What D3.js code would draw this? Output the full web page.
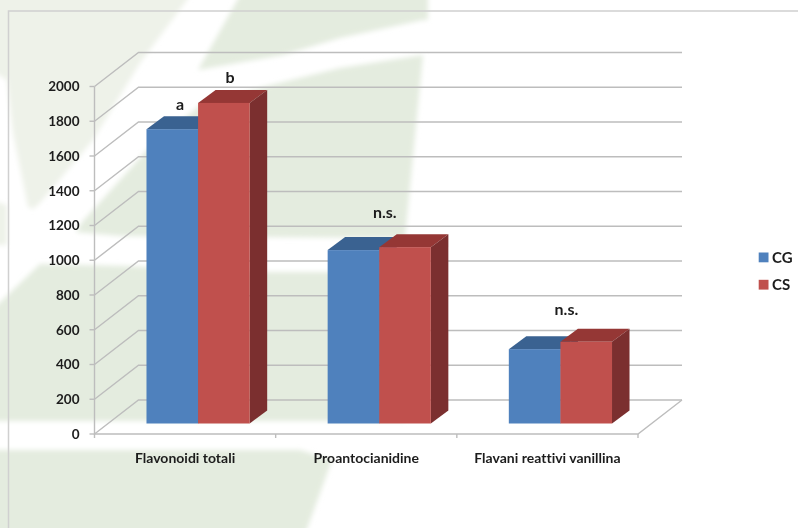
<!DOCTYPE html>
<html><head><meta charset="utf-8">
<script src="https://cdn.jsdelivr.net/npm/d3@7"></script>
<style>html,body{margin:0;padding:0;background:#fff;overflow:hidden}svg{display:block}text{font-family:Lato,"Open Sans",sans-serif;font-weight:700;fill:#1c1c1c;font-variant-ligatures:none}</style>
</head><body><svg id="c" width="798" height="528"></svg>
<script>
const categories = ["Flavonoidi totali", "Proantocianidine", "Flavani reattivi vanillina"];
const seriesNames = ["CG", "CS"];
const valuesCG = [1694, 998, 428];
const valuesCS = [1845, 1015, 470];
const yTicks = [0, 200, 400, 600, 800, 1000, 1200, 1400, 1600, 1800, 2000];
const annotationLabels = ["a", "b", "n.s.", "n.s."];
const annotationCategory = [0, 0, 1, 2];
const annotationOffset = [-18, 32, 5.5, 6];   // px from band centre
const annotationValue = [1865, 2020, 1243, 686];

const colors = {CG:{front:"#4f81bd",top:"#3a6291",side:"#3a6291"},CS:{front:"#c0504d",top:"#953735",side:"#7b2f2f"}};
const svg = d3.select("#c");
const defs = svg.append("defs");
defs.append("filter").attr("id","bgblur").attr("filterUnits","userSpaceOnUse").attr("x",-20).attr("y",-20).attr("width",840).attr("height",570)
  .append("feGaussianBlur").attr("stdDeviation",2.5);
defs.append("filter").attr("id","soft").attr("filterUnits","userSpaceOnUse").attr("x",-300).attr("y",-50).attr("width",1200).attr("height",700)
  .append("feGaussianBlur").attr("stdDeviation",0.35);

// background decoration (blurred leaf shapes behind the chart)
const pale="#eef2e9", mid="#e4ecdf";
const bgShapes = [
 [pale,[[-10,-10],[194,-10],[187,0],[140,63],[93,140],[40,203],[33,209],[28,207],[13,133],[7,80],[-10,70]]],
 [pale,[[-10,200],[7,205],[7,245],[-10,245]]],
 [mid,[[243,-10],[428,-10],[428,20],[423,20],[340,38],[283,55],[198,70]]],
 [mid,[[82,222],[147,150],[200,105],[267,86],[340,68],[423,55],[405,238],[120,236],[76,232]]],
 [mid,[[40,264],[130,266],[250,272],[405,272],[405,421],[-10,421],[-10,312]]],
 [mid,[[-10,450],[300,450],[332,460],[303,540],[-10,540]]]
];
const bg = svg.append("g").attr("filter","url(#bgblur)");
bgShapes.forEach(([f,p])=>bg.append("polygon").attr("fill",f).attr("points",p.join(" ")));

// outer frame
svg.append("path").attr("d","M8.5,528V11H798").attr("fill","none").attr("stroke","#d0d0d0").attr("stroke-width",1.5);

const front={left:94.5,right:638,y0:434,yTop:86.5};
const wall={dx:44,dy:-34};
const floorShift={dx:13,dy:-10.5};
const depth={dx:17.5,dy:-13};

const y=d3.scaleLinear().domain([0,2000]).range([front.y0,front.yTop]);
const x=d3.scaleBand().domain(categories).range([front.left,front.right]);
const barTotal=103.2;
const inner=d3.scaleBand().domain(seriesNames).range([0,barTotal]);

const grid=svg.append("g").attr("fill","none").attr("stroke","#bdbdbd").attr("stroke-width",1.4);
yTicks.forEach(t=>{
  grid.append("path").attr("d",`M${front.left},${y(t)}L${front.left+wall.dx},${y(t)+wall.dy}H${front.right+wall.dx}`);
  grid.append("path").attr("d",`M${front.left-5},${y(t)}H${front.left}`);
});
grid.append("path").attr("d",`M${front.left},${front.yTop}V${front.y0}H${front.right}L${front.right+wall.dx},${front.y0+wall.dy}`);
[...categories.map(c=>x(c)),front.right].forEach(px=>grid.append("path").attr("d",`M${px},${front.y0}v4`));

// y axis labels via d3 axis
const ax=svg.append("g").attr("transform",`translate(${front.left},0)`)
  .call(d3.axisLeft(y).tickValues(yTicks).tickFormat(d3.format("d")).tickSize(0).tickPadding(15));
ax.select(".domain").remove();
ax.selectAll("text").attr("font-size",13.5).style("font-family","Lato").style("font-weight",700).attr("filter","url(#soft)");

// bars
const marks=svg.append("g");
categories.forEach((c,i)=>{
  const gx=x(c)+floorShift.dx+(x.bandwidth()-barTotal)/2;
  const draw=(name,v)=>{
    const col=colors[name],w=inner.bandwidth();
    const x0=gx+inner(name),x1=x0+w;
    const yt=y(v)+floorShift.dy,yb=y(0)+floorShift.dy;
    marks.append("polygon").attr("fill",col.top).attr("points",[[x0,yt],[x1,yt],[x1+depth.dx,yt+depth.dy],[x0+depth.dx,yt+depth.dy]].join(" "));
    marks.append("polygon").attr("fill",col.side).attr("points",[[x1,yt],[x1+depth.dx,yt+depth.dy],[x1+depth.dx,yb+depth.dy],[x1,yb]].join(" "));
    marks.append("rect").attr("x",x0).attr("y",yt).attr("width",w).attr("height",yb-yt).attr("fill",col.front);
  };
  draw("CG",valuesCG[i]);
  draw("CS",valuesCS[i]);
});

// category labels
categories.forEach(c=>{
  svg.append("text").attr("x",x(c)+x.bandwidth()/2).attr("y",462.5).attr("text-anchor","middle").attr("font-size",14).attr("filter","url(#soft)").text(c);
});

// annotations
annotationLabels.forEach((t,i)=>{
  const c=categories[annotationCategory[i]];
  svg.append("text").attr("x",x(c)+x.bandwidth()/2+annotationOffset[i]+floorShift.dx).attr("y",y(annotationValue[i]))
    .attr("text-anchor","middle").attr("font-size",16).attr("filter","url(#soft)").text(t);
});

// legend
seriesNames.forEach((n,i)=>{
  const ly=252.5+27.3*i;
  svg.append("rect").attr("x",758.7).attr("y",ly).attr("width",9.8).attr("height",9.8).attr("fill",colors[n].front);
  svg.append("text").attr("x",772).attr("y",ly+10).attr("font-size",15).attr("filter","url(#soft)").text(n);
});
</script></body></html>
